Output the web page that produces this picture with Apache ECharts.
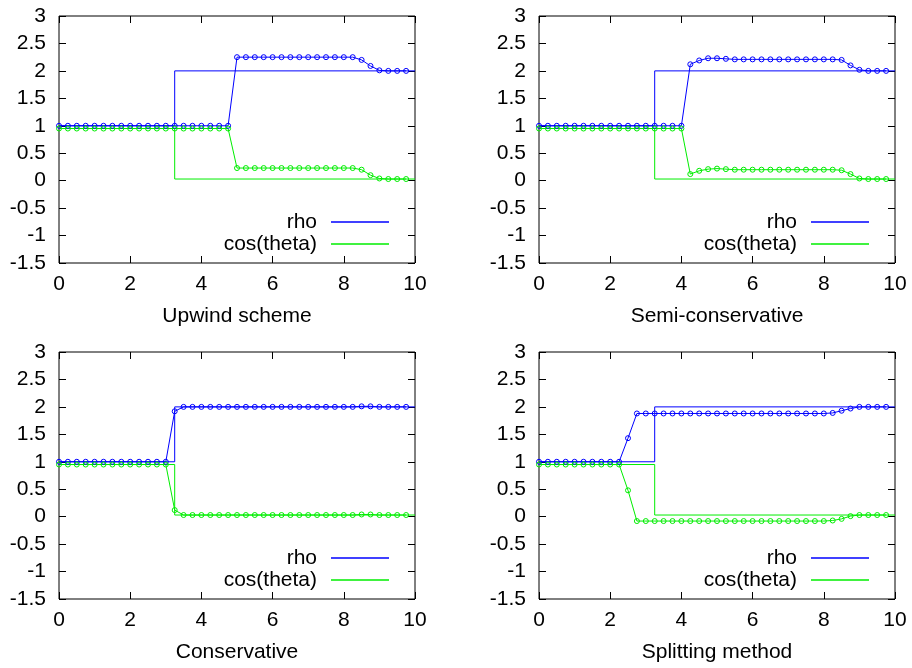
<!DOCTYPE html>
<html>
<head>
<meta charset="utf-8">
<script src="https://cdn.jsdelivr.net/npm/echarts@6/dist/echarts.min.js"></script>
<style>
html,body{margin:0;padding:0;background:#fff;}
#c{width:912px;height:668px;}
</style>
</head>
<body>
<div id="c"></div>
<script>
// grid points of the numerical solution
const xs = [0,0.25,0.5,0.75,1,1.25,1.5,1.75,2,2.25,2.5,2.75,3,3.25,3.5,3.75,4,4.25,4.5,4.75,
            5,5.25,5.5,5.75,6,6.25,6.5,6.75,7,7.25,7.5,7.75,8,8.25,8.5,8.75,9,9.25,9.5,9.75];
// exact solution
const exactX = [0, 3.25, 3.25, 10];
const exactRho = [1, 1, 2, 2];
const exactCos = [0.95, 0.95, 0.03, 0.03];

// panel titles
const titles = ['Upwind scheme', 'Semi-conservative', 'Conservative', 'Splitting method'];

// Upwind scheme
const upwindRho = [1,1,1,1,1,1,1,1,1,1,1,1,1,1,1,1,1,1,1,1,
  2.25,2.25,2.25,2.25,2.25,2.25,2.25,2.25,2.25,2.25,2.25,2.25,2.25,2.25,2.2,2.09,2.01,2,2,2];
const upwindCos = [0.95,0.95,0.95,0.95,0.95,0.95,0.95,0.95,0.95,0.95,0.95,0.95,0.95,0.95,0.95,0.95,0.95,0.95,0.95,0.95,
  0.23,0.23,0.23,0.23,0.23,0.23,0.23,0.23,0.23,0.23,0.23,0.23,0.23,0.23,0.2,0.1,0.04,0.03,0.03,0.03];
// Semi-conservative
const semiRho = [1,1,1,1,1,1,1,1,1,1,1,1,1,1,1,1,1,2.12,2.19,2.23,
  2.23,2.22,2.21,2.21,2.21,2.21,2.21,2.21,2.21,2.21,2.21,2.21,2.21,2.21,2.2,2.1,2.02,2,2,2];
const semiCos = [0.95,0.95,0.95,0.95,0.95,0.95,0.95,0.95,0.95,0.95,0.95,0.95,0.95,0.95,0.95,0.95,0.95,0.12,0.18,0.21,
  0.22,0.21,0.2,0.2,0.2,0.2,0.2,0.2,0.2,0.2,0.2,0.2,0.2,0.2,0.19,0.12,0.04,0.03,0.03,0.03];
// Conservative
const consRho = [1,1,1,1,1,1,1,1,1,1,1,1,1,1.92,2,2,2,2,2,2,
  2,2,2,2,2,2,2,2,2,2,2,2,2,2,2.01,2.01,2,2,2,2];
const consCos = [0.95,0.95,0.95,0.95,0.95,0.95,0.95,0.95,0.95,0.95,0.95,0.95,0.95,0.12,0.03,0.03,0.03,0.03,0.03,0.03,
  0.03,0.03,0.03,0.03,0.03,0.03,0.03,0.03,0.03,0.03,0.03,0.03,0.03,0.03,0.04,0.04,0.03,0.03,0.03,0.03];
// Splitting method
const splitRho = [1,1,1,1,1,1,1,1,1,1,1.43,1.88,1.88,1.88,1.88,1.88,1.88,1.88,1.88,1.88,
  1.88,1.88,1.88,1.88,1.88,1.88,1.88,1.88,1.88,1.88,1.88,1.88,1.88,1.89,1.93,1.97,2,2,2,2];
const splitCos = [0.95,0.95,0.95,0.95,0.95,0.95,0.95,0.95,0.95,0.95,0.48,-0.08,-0.08,-0.08,-0.08,-0.08,-0.08,-0.08,-0.08,-0.08,
  -0.08,-0.08,-0.08,-0.08,-0.08,-0.08,-0.08,-0.08,-0.08,-0.08,-0.08,-0.08,-0.08,-0.07,-0.04,0.01,0.03,0.03,0.03,0.03];

const panels = [[upwindRho, upwindCos],[semiRho, semiCos],[consRho, consCos],[splitRho, splitCos]];

const BLUE = '#0000ff', GREEN = '#00ee00';
const FONT = '"Liberation Sans", Arial, sans-serif';
const FS = 21;

const grids = [
  {left:59, right:497, top:16, bottom:405},
  {left:539, right:17, top:16, bottom:405},
  {left:59, right:497, top:352, bottom:69},
  {left:539, right:17, top:352, bottom:69}
];
const legendPos = [
  {right:523, top:211}, {right:43, top:211}, {right:523, top:547}, {right:43, top:547}
];

const zip = (a, b) => a.map((v, i) => [v, b[i]]);

const option = {
  animation:false,
  backgroundColor:'#fff',
  textStyle:{fontFamily:FONT},
  grid:[], xAxis:[], yAxis:[], series:[], legend:[]
};

grids.forEach((g, i) => {
  option.grid.push(Object.assign({show:true, borderColor:'#000', borderWidth:1, backgroundColor:'transparent'}, g));
  const tick = {show:true, inside:true, length:7, lineStyle:{color:'#000', width:1}};
  const noLine = {show:false, onZero:false};
  option.xAxis.push({
    type:'value', gridIndex:i, min:0, max:10, interval:2, position:'bottom',
    name:titles[i], nameLocation:'middle', nameGap:43,
    nameTextStyle:{fontSize:FS, color:'#000', fontFamily:FONT},
    axisLine:noLine, axisTick:tick, splitLine:{show:false},
    axisLabel:{fontSize:FS, color:'#000', margin:11, fontFamily:FONT}
  });
  option.xAxis.push({
    type:'value', gridIndex:i, min:0, max:10, interval:2, position:'top',
    axisLine:noLine, axisTick:tick, splitLine:{show:false}, axisLabel:{show:false}
  });
  option.yAxis.push({
    type:'value', gridIndex:i, min:-1.5, max:3, interval:0.5, position:'left',
    axisLine:noLine, axisTick:tick, splitLine:{show:false},
    axisLabel:{fontSize:FS, color:'#000', margin:13, fontFamily:FONT}
  });
  option.yAxis.push({
    type:'value', gridIndex:i, min:-1.5, max:3, interval:0.5, position:'right',
    axisLine:noLine, axisTick:tick, splitLine:{show:false}, axisLabel:{show:false}
  });
  const xi = 2*i, yi = 2*i;
  option.series.push({
    name:'rho', type:'line', xAxisIndex:xi, yAxisIndex:yi, data:zip(exactX, exactRho),
    symbol:'none', lineStyle:{color:BLUE, width:1}, itemStyle:{color:BLUE}, z:2
  });
  option.series.push({
    name:'cos(theta)', type:'line', xAxisIndex:xi, yAxisIndex:yi, data:zip(exactX, exactCos),
    symbol:'none', lineStyle:{color:GREEN, width:1}, itemStyle:{color:GREEN}, z:2
  });
  option.series.push({
    name:'rho num', type:'line', xAxisIndex:xi, yAxisIndex:yi, data:zip(xs, panels[i][0]),
    symbol:'circle', symbolSize:5, showAllSymbol:true,
    lineStyle:{color:BLUE, width:1},
    itemStyle:{color:'transparent', borderColor:BLUE, borderWidth:1}, z:3
  });
  option.series.push({
    name:'cos num', type:'line', xAxisIndex:xi, yAxisIndex:yi, data:zip(xs, panels[i][1]),
    symbol:'circle', symbolSize:5, showAllSymbol:true,
    lineStyle:{color:GREEN, width:1},
    itemStyle:{color:'transparent', borderColor:GREEN, borderWidth:1}, z:3
  });
  option.legend.push(Object.assign({
    data:['rho','cos(theta)'], orient:'vertical', align:'right',
    icon:'rect', itemWidth:58, itemHeight:1.5, itemGap:0, padding:0,
    selectedMode:false,
    textStyle:{fontSize:FS, color:'#000', fontFamily:FONT, lineHeight:22, padding:[0,9,0,0]}
  }, legendPos[i]));
});

const chart = echarts.init(document.getElementById('c'), null, {renderer:'canvas'});
chart.setOption(option);
</script>
</body>
</html>
